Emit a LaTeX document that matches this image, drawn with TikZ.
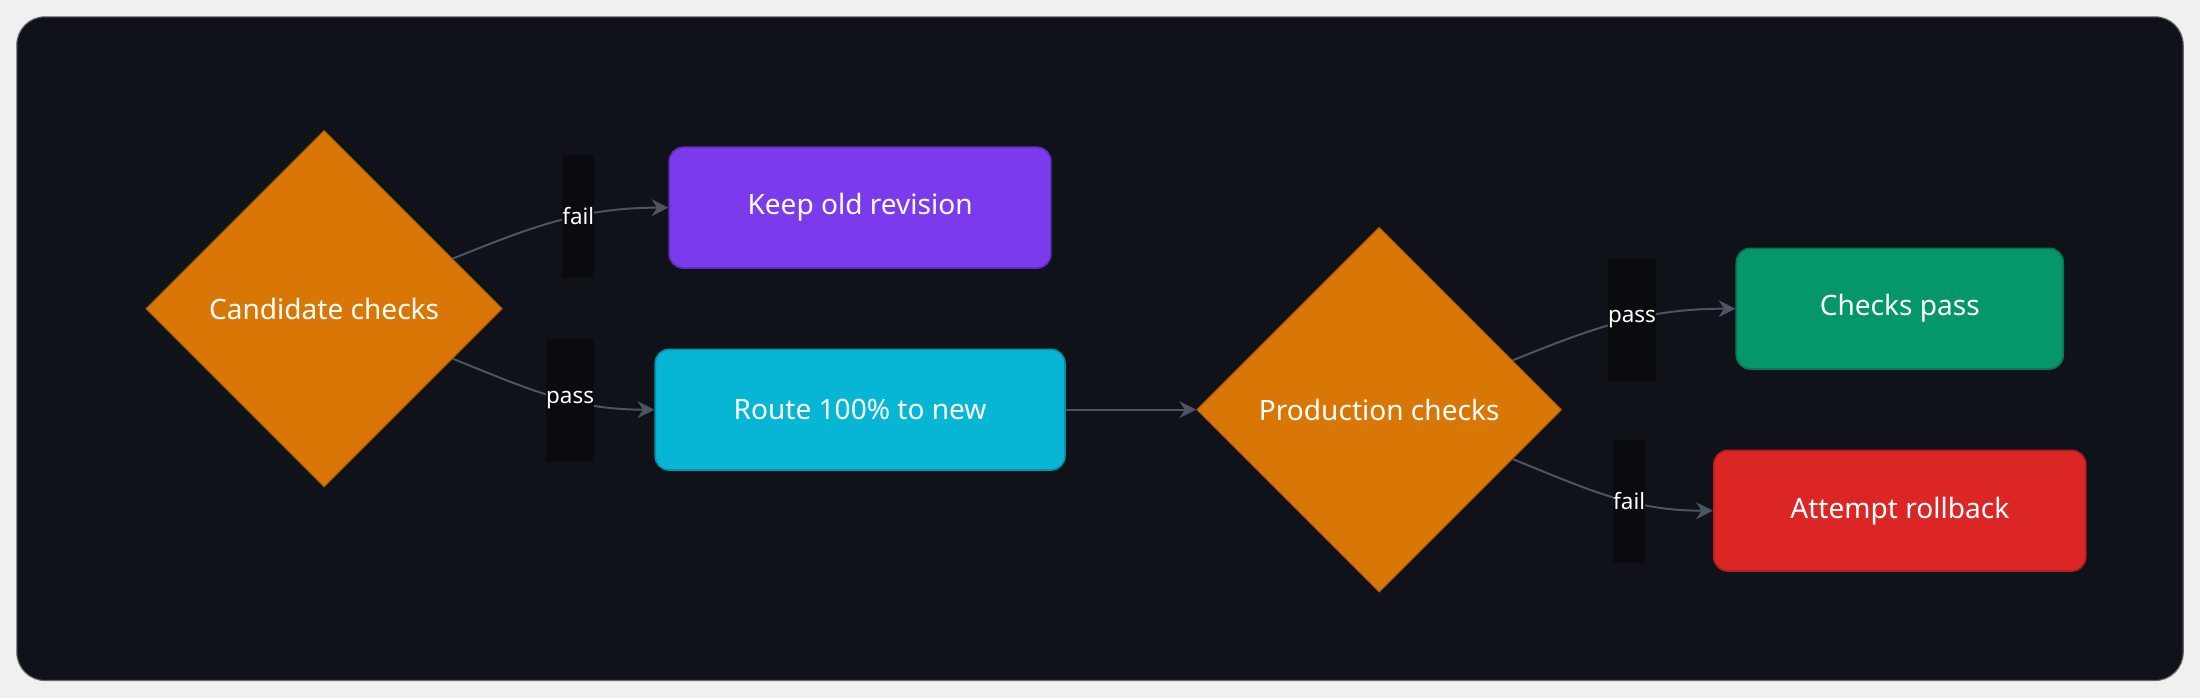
\documentclass[tikz,border=0pt]{standalone}
\usepackage{fontspec}
\setmainfont{Noto Sans}
\usetikzlibrary{shapes.geometric,arrows.meta,calc}
\definecolor{panel}{HTML}{10121A}
\definecolor{edgegray}{HTML}{4B5563}
\definecolor{lblbg}{HTML}{0A0B0F}
\definecolor{decor}{HTML}{D97706}
\definecolor{keepc}{HTML}{7C3AED}
\definecolor{routec}{HTML}{06B6D4}
\definecolor{passc}{HTML}{059669}
\definecolor{failc}{HTML}{DC2626}

\begin{document}
\begin{tikzpicture}[x=0.5pt, y=-0.5pt, >={Stealth[width=6pt,length=6pt]},
	decision/.style={diamond, fill=decor, draw=decor!80!black, minimum width=127pt, minimum height=127pt, inner sep=0pt, text=white, font=\fontsize{10}{12}\selectfont},
	stage/.style={rounded corners=5pt, minimum width=136pt, minimum height=43pt, text=white, font=\fontsize{10}{12}\selectfont, line width=0.6pt},
	lbl/.style={fill=lblbg, text=white, inner xsep=0pt, minimum height=44pt, font=\fontsize{8}{10}\selectfont},
	link/.style={->, draw=edgegray, line width=0.7pt}]
	\useasboundingbox (0,0) rectangle (1568,497.5);
	\fill[white!94!black] (0,0) rectangle (1568,497.5);
	\draw[fill=panel, draw=white!40!black, rounded corners=10pt] (12,12) rectangle (1556,485);
	% nodes
	\node[decision] (d1) at (231,220) {\makebox[0pt]{Candidate checks}};
	\node[stage, fill=keepc, draw=keepc!80!black] (keep) at (613,148) {Keep old revision};
	\node[stage, fill=routec, draw=routec!80!black, minimum width=146pt] (route) at (613,292) {Route 100\% to new};
	\node[decision, minimum width=130pt, minimum height=130pt] (d2) at (983,292) {\makebox[0pt]{Production checks}};
	\node[stage, fill=passc, draw=passc!80!black, minimum width=116.5pt] (ok) at (1354,220) {Checks pass};
	\node[stage, fill=failc, draw=failc!80!black, minimum width=132.5pt] (back) at (1354,364) {Attempt rollback};
	% anchors on diamond edges
	\coordinate (d1u) at ($(d1.north east)!0.44!(d1.east)$);
	\coordinate (d1d) at ($(d1.south east)!0.44!(d1.east)$);
	\coordinate (d2u) at ($(d2.north east)!0.46!(d2.east)$);
	\coordinate (d2d) at ($(d2.south east)!0.46!(d2.east)$);
	% edges
	\draw[link] (d1u) to[out=22,in=180] node[lbl, pos=0.6]{fail} (keep.west);
	\draw[link] (d1d) to[out=-22,in=180] node[lbl, pos=0.6]{pass} (route.west);
	\draw[link] (route) -- (d2);
	\draw[link] (d2u) to[out=22,in=180] node[lbl, pos=0.55]{pass} (ok.west);
	\draw[link] (d2d) to[out=-22,in=180] node[lbl, pos=0.6]{fail} (back.west);
\end{tikzpicture}
\end{document}
